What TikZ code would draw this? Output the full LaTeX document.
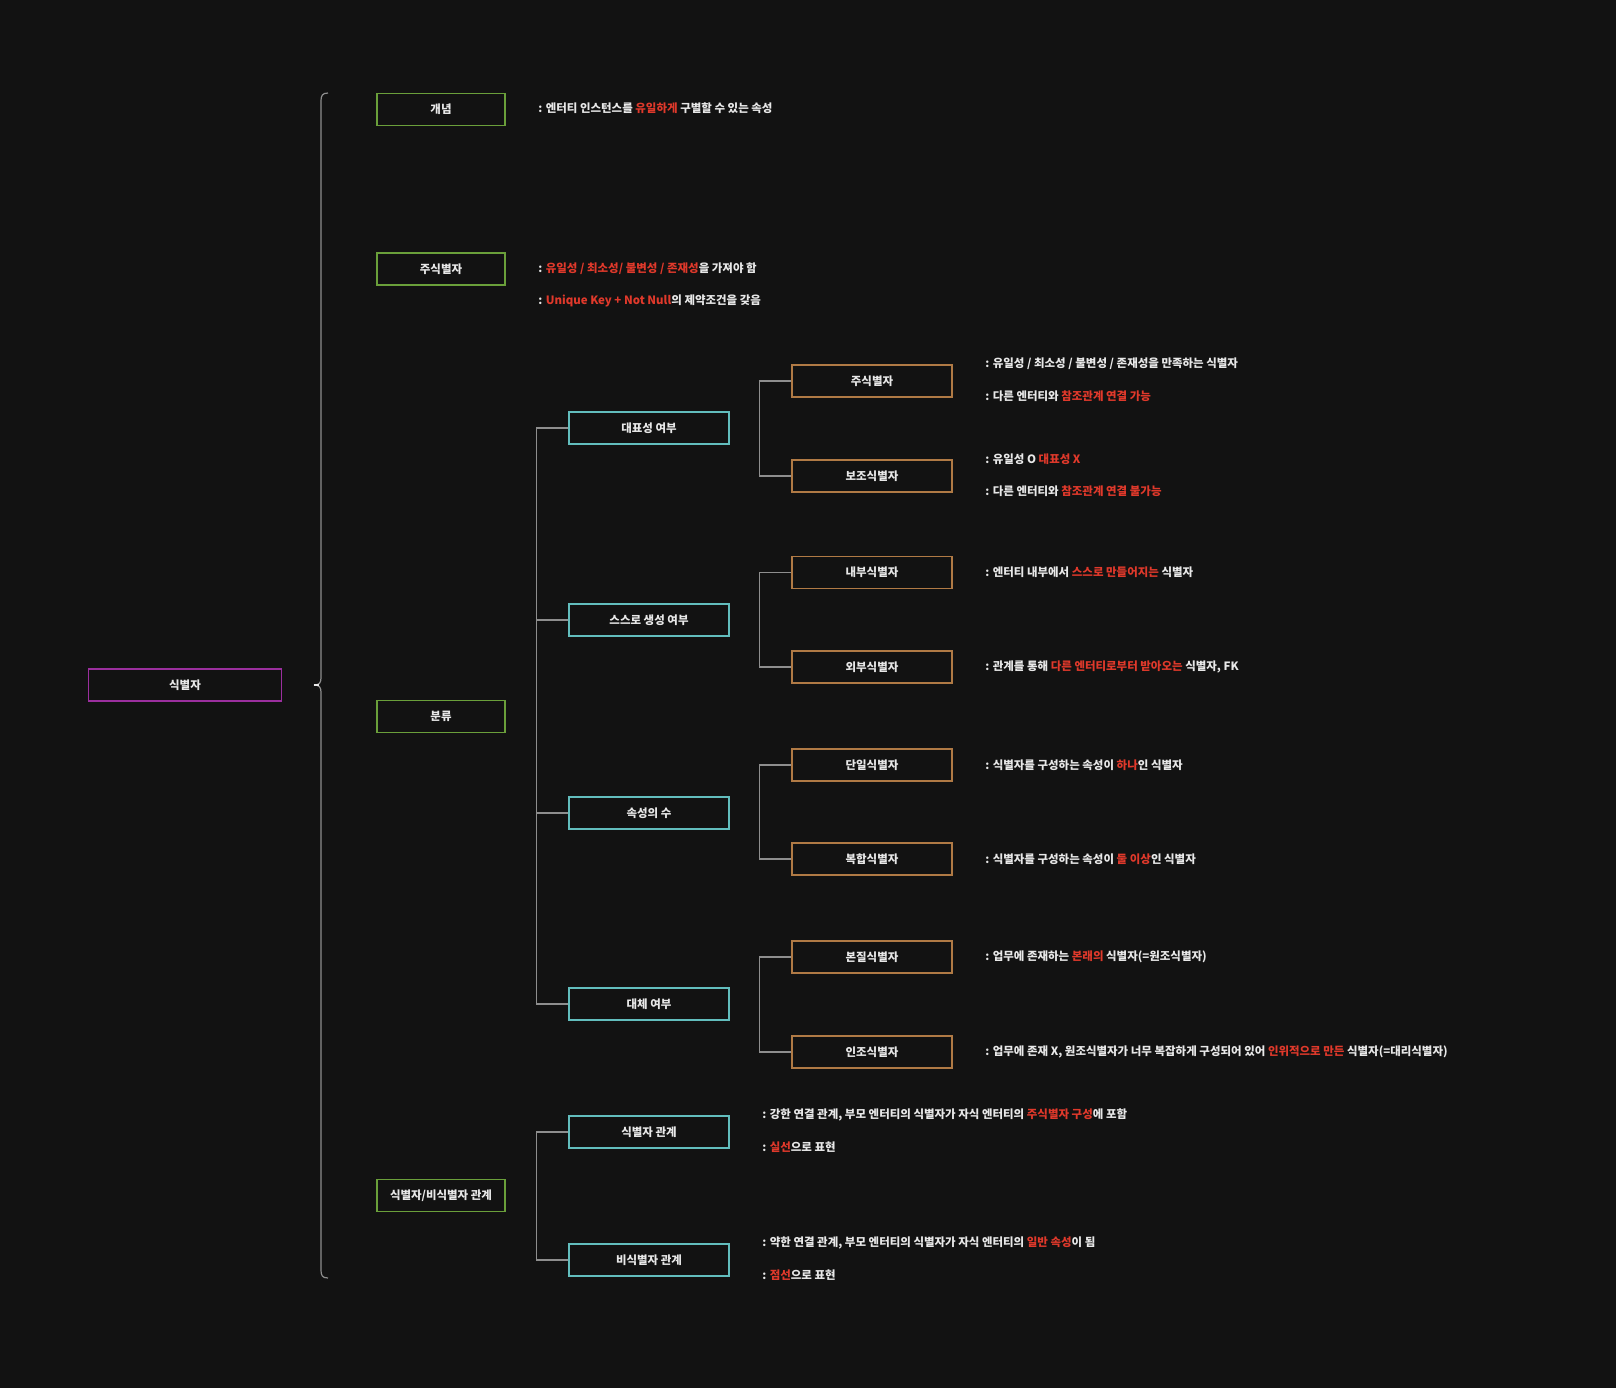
\documentclass[tikz,border=0pt]{standalone}
\usepackage{fontspec}
\setmainfont{Noto Sans CJK KR}
\usepackage{xcolor}
\usepackage{tikz}
\usetikzlibrary{positioning}
\definecolor{bgdark}{HTML}{121212}
\definecolor{leaf}{HTML}{6A9F3A}
\definecolor{aqua}{HTML}{62BDBD}
\definecolor{amber}{HTML}{B07A45}
\definecolor{plum}{HTML}{9B2F9E}
\definecolor{alert}{HTML}{E0392B}
\definecolor{wire}{HTML}{8E8E8E}
\definecolor{ink}{HTML}{E8E8E8}
\newcommand{\redtxt}[1]{\textcolor{alert}{#1}}
\tikzset{
  basebox/.style={draw=#1,line width=0.9pt,fill=bgdark,text=ink,align=center,
    minimum height=24pt,inner sep=0pt,font=\fontsize{8.6}{10}\selectfont\bfseries},
  rootbox/.style={basebox=plum,minimum width=144.5pt},
  topicbox/.style={basebox=leaf,minimum width=96pt},
  groupbox/.style={basebox=aqua,minimum width=120pt},
  leafbox/.style={basebox=amber,minimum width=120pt},
  desc/.style={anchor=west,text=ink,inner sep=0pt,font=\fontsize{8.6}{10}\selectfont\bfseries},
  conn/.style={draw=wire,line width=0.9pt}
}
\begin{document}
\begin{tikzpicture}[x=0.75pt,y=-0.75pt]
  \fill[bgdark] (0,0) rectangle (1616,1388);
  \useasboundingbox (0,0) rectangle (1616,1388);

  % root and brace
  \node[rootbox] (root) at (185,685) {식별자};
  \coordinate (btop) at (328,93);
  \coordinate (bbot) at (328,1278);
  \coordinate (btip) at (314,685);
  \draw[conn] (btop) .. controls (322,93) and (321,96) .. (321,101) -- (321,678)
    .. controls (321,683) and (319,685) .. (btip);
  \draw[conn] (btip) .. controls (319,685) and (321,687) .. (321,692) -- (321,1270)
    .. controls (321,1275) and (322,1278) .. (bbot);
  \draw[ink,line width=0.9pt] (btip) -- (319,685);

  % first level
  \node[topicbox] (concept) at (441,109.5) {개념};
  \node[topicbox] (pkey) at (441,269) {주식별자};
  \node[topicbox] (kinds) at (441,716.5) {분류};
  \node[topicbox] (rel) at (441,1195.5) {식별자/비식별자 관계};

  \node[desc] (conceptd) at (538,108) {: 엔터티 인스턴스를 \redtxt{유일하게} 구별할 수 있는 속성};
  \node[desc] (pkeyd1) at (538,269) {: \redtxt{유일성 / 최소성/ 불변성 / 존재성}을 가져야 함};
  \node[desc] (pkeyd2) at (538,301) {: \redtxt{Unique Key + Not Null}의 제약조건을 갖음};

  % second level
  \node[groupbox] (repr) at (649,428) {대표성 여부};
  \node[groupbox] (self) at (649,620) {스스로 생성 여부};
  \node[groupbox] (count) at (649,813) {속성의 수};
  \node[groupbox] (subst) at (649,1004) {대체 여부};
  \node[groupbox] (idrel) at (649,1132) {식별자 관계};
  \node[groupbox] (nonrel) at (649,1260) {비식별자 관계};

  \draw[conn] (repr.west) -- ++(-32,0) |- (subst.west);
  \draw[conn] (self.west) -- ++(-32,0);
  \draw[conn] (count.west) -- ++(-32,0);
  \draw[conn] (idrel.west) -- ++(-32,0) |- (nonrel.west);

  \node[desc] (idreld1) at (762,1115) {: 강한 연결 관계, 부모 엔터티의 식별자가 자식 엔터티의 \redtxt{주식별자 구성}에 포함};
  \node[desc] (idreld2) at (762,1147) {: \redtxt{실선}으로 표현};
  \node[desc] (nonreld1) at (762,1243) {: 약한 연결 관계, 부모 엔터티의 식별자가 자식 엔터티의 \redtxt{일반 속성}이 됨};
  \node[desc] (nonreld2) at (762,1275) {: \redtxt{점선}으로 표현};

  % third level
  \node[leafbox] (primary) at (872,381) {주식별자};
  \node[leafbox] (alt) at (872,476) {보조식별자};
  \node[leafbox] (inner) at (872,572.5) {내부식별자};
  \node[leafbox] (outer) at (872,667) {외부식별자};
  \node[leafbox] (single) at (872,765) {단일식별자};
  \node[leafbox] (multi) at (872,859) {복합식별자};
  \node[leafbox] (natural) at (872,957) {본질식별자};
  \node[leafbox] (artif) at (872,1052) {인조식별자};

  \draw[conn] (primary.west) -- ++(-32,0) |- (alt.west);
  \draw[conn] (inner.west) -- ++(-32,0) |- (outer.west);
  \draw[conn] (single.west) -- ++(-32,0) |- (multi.west);
  \draw[conn] (natural.west) -- ++(-32,0) |- (artif.west);

  \node[desc] (primaryd1) at (985,364) {: 유일성 / 최소성 / 불변성 / 존재성을 만족하는 식별자};
  \node[desc] (primaryd2) at (985,396) {: 다른 엔터티와 \redtxt{참조관계 연결 가능}};
  \node[desc] (altd1) at (985,459) {: 유일성 O \redtxt{대표성 X}};
  \node[desc] (altd2) at (985,491) {: 다른 엔터티와 \redtxt{참조관계 연결 불가능}};
  \node[desc] (innerd) at (985,572.5) {: 엔터티 내부에서 \redtxt{스스로 만들어지는} 식별자};
  \node[desc] (outerd) at (985,667) {: 관계를 통해 \redtxt{다른 엔터티로부터 받아오는} 식별자, FK};
  \node[desc] (singled) at (985,765) {: 식별자를 구성하는 속성이 \redtxt{하나}인 식별자};
  \node[desc] (multid) at (985,859) {: 식별자를 구성하는 속성이 \redtxt{둘 이상}인 식별자};
  \node[desc] (naturald) at (985,957) {: 업무에 존재하는 \redtxt{본래의} 식별자(=원조식별자)};
  \node[desc] (artifd) at (985,1052) {: 업무에 존재 X, 원조식별자가 너무 복잡하게 구성되어 있어 \redtxt{인위적으로 만든} 식별자(=대리식별자)};
\end{tikzpicture}
\end{document}
